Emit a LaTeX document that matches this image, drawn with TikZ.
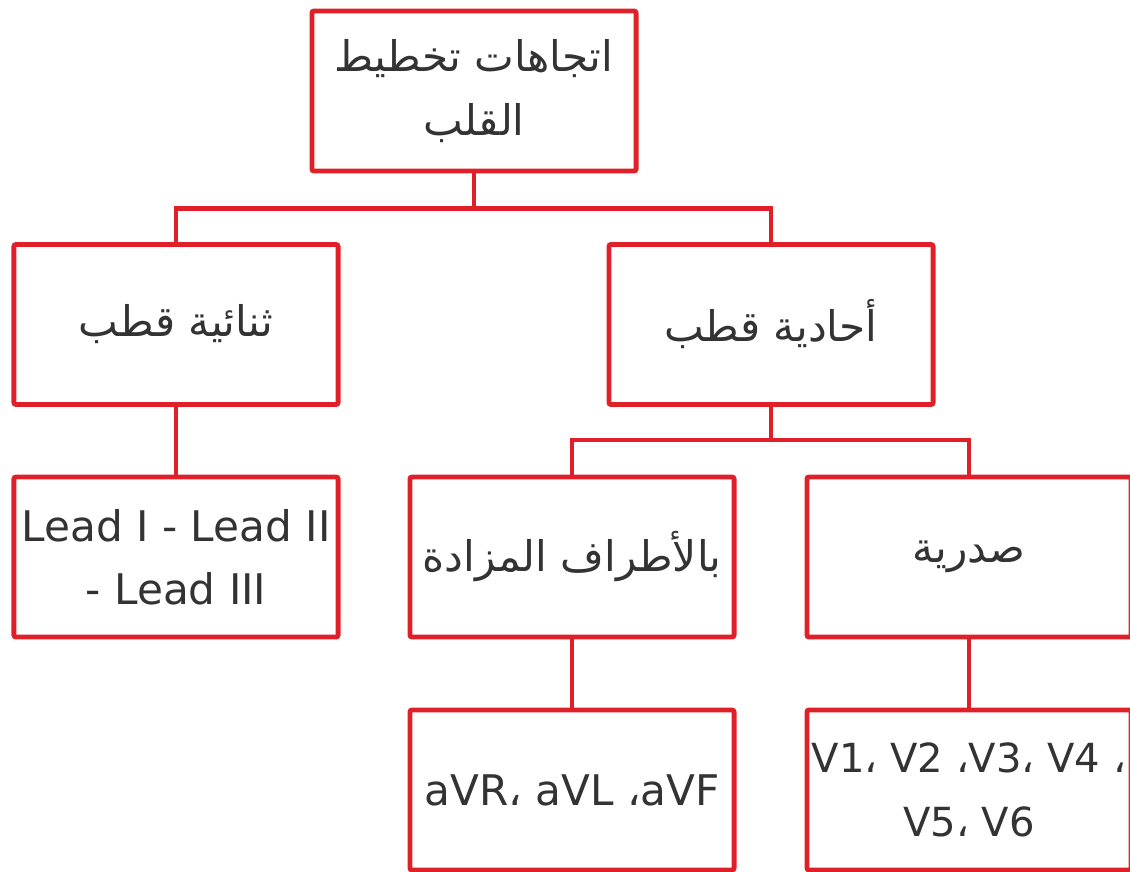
\documentclass[tikz,border=0pt]{standalone}
\usepackage{fontspec}
\setmainfont{DejaVu Sans}
\newfontfamily\arabicfont[Script=Arabic]{DejaVu Sans}
\TeXXeTstate=1

\definecolor{leadred}{RGB}{224,32,40}
\definecolor{ink}{RGB}{51,51,51}

\newcommand{\artext}[1]{{\arabicfont\beginR #1\endR}}

\tikzset{
  leadbox/.style={draw=leadred, line width=3.5pt, rounded corners=1.5pt,
    minimum width=8.1cm, minimum height=4cm, inner xsep=2pt,
    align=center, text=ink, font=\fontsize{30}{45}\selectfont},
  wire/.style={draw=leadred, line width=3.5pt}
}

\begin{document}
\begin{tikzpicture}[x=0.025cm, y=-0.025cm]

    \clip (0,0) rectangle (1130,872);

    % top of the tree
    \node[leadbox] (root) at (474,91) {\artext{اتجاهات تخطيط}\\\artext{القلب}};

    % bipolar and unipolar leads
    \node[leadbox] (bipolar) at (176,324.5) {\artext{ثنائية قطب}};
    \node[leadbox] (unipolar) at (771,324.5) {\artext{أحادية قطب}};

    \node[leadbox] (limb) at (176,557) {Lead I - Lead II\\- Lead III};

    % unipolar: augmented limb and chest leads
    \node[leadbox] (augmented) at (572,557) {\artext{بالأطراف المزادة}};
    \node[leadbox] (chest) at (969,557) {\artext{صدرية}};

    \node[leadbox] (avr) at (572,790) {aVR، aVL ،aVF};
    \node[leadbox, font=\fontsize{28.5}{45}\selectfont] (vleads) at (969,790)
        {V1، V2 ،V3، V4 ،\\V5، V6};

    % connectors
    \draw[wire] (root.south) -- ++(0,35) coordinate (rootsplit)
        -| (bipolar.north);
    \draw[wire] (rootsplit) -| (unipolar.north);

    \draw[wire] (bipolar.south) -- (limb.north);

    \draw[wire] (unipolar.south) -- ++(0,33) coordinate (unisplit)
        -| (augmented.north);
    \draw[wire] (unisplit) -| (chest.north);

    \draw[wire] (augmented.south) -- (avr.north);
    \draw[wire] (chest.south) -- (vleads.north);

\end{tikzpicture}
\end{document}
